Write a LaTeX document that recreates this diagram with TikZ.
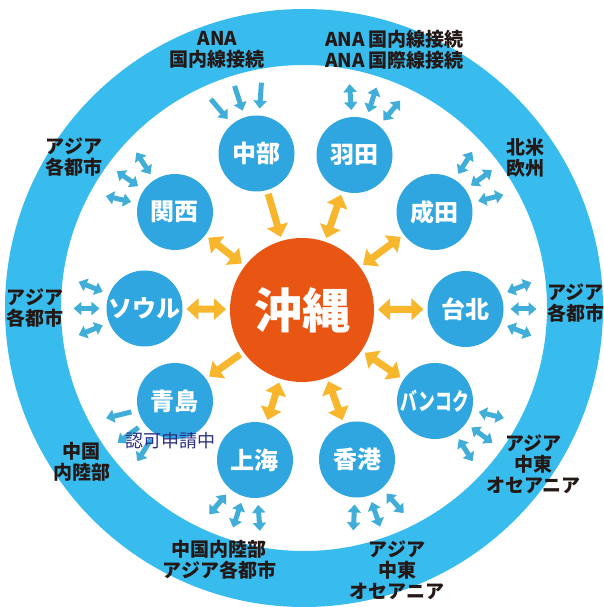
\documentclass[tikz,border=0pt]{standalone}
\usepackage{fontspec}
\usepackage{graphicx}
\setmainfont{Noto Sans CJK JP}
\usetikzlibrary{arrows.meta,calc}
\definecolor{ringblue}{HTML}{38BCEE}
\definecolor{cityblue}{HTML}{2FA6DF}
\definecolor{arrblue}{HTML}{40AED9}
\definecolor{okiorange}{HTML}{E95614}
\definecolor{yel}{HTML}{F8B62D}
\definecolor{txt}{HTML}{231815}
\definecolor{navy}{HTML}{2B2E83}
\tikzset{
  Yt/.tip={Triangle[width=21pt,length=12pt]},
  Bt/.tip={Triangle[width=13pt,length=8pt]},
  city/.style={circle, fill=cityblue, minimum size=76pt, inner sep=0pt, outer sep=0pt,
    text=white, font=\bfseries\fontsize{24}{26}\selectfont},
  okinode/.style={circle, fill=okiorange, minimum size=144pt, inner sep=0pt, outer sep=0pt,
    text=white, font=\bfseries\fontsize{48}{50}\selectfont},
  lbl/.style={align=center, inner sep=0pt, text=txt, font=\bfseries\fontsize{19}{21}\selectfont},
  yarr/.style={draw=yel, line width=7pt, shorten <=4pt, shorten >=4pt},
  ydbl/.style={yarr, Yt-Yt},
  ysgl/.style={yarr, -Yt},
  sarr/.style={draw=arrblue, line width=5pt},
  bdbl/.style={sarr, Bt-Bt},
  bin/.style={sarr, Bt-},
  bout/.style={sarr, -Bt}
}
\begin{document}
\begin{tikzpicture}[x=1pt,y=1pt]
\useasboundingbox (-302,-297) rectangle (302,310);
\fill[white] (-302,-297) rectangle (302,310);
% ring
\draw[ringblue, line width=56pt] (2,2) circle (271pt);
% nodes
\node[okinode] (oki) at (0,0) {沖縄};
\node[city] (chubu) at (-45.5,156.5) {中部};
\node[city] (hnd) at (52.5,155) {羽田};
\node[city] (nrt) at (132.5,98) {成田};
\node[city] (tpe) at (163.5,1) {台北};
\node[city] (bkk) at (133,-91) {\scalebox{0.7}[1]{バンコク}};
\node[city] (hkg) at (55,-149.5) {香港};
\node[city] (sha) at (-47,-150) {上海};
\node[city] (tao) at (-127,-91) {青島};
\node[city] (sel) at (-157.5,1.5) {ソウル};
\node[city] (kix) at (-127,98) {関西};
% yellow arrows
\draw[ysgl] (chubu) -- (oki);
\draw[ydbl] (hnd) -- (oki);
\draw[ydbl] (nrt) -- (oki);
\draw[ydbl] (tpe) -- (oki);
\draw[ydbl] (bkk) -- (oki);
\draw[ydbl] (hkg) -- (oki);
\draw[ydbl] (sha) -- (oki);
\draw[ysgl] (oki) -- (tao);
\draw[ydbl] (sel) -- (oki);
\draw[ydbl] (kix) -- (oki);
% small blue arrows
\foreach \c/\a/\s in {chubu/108/bin, hnd/72/bdbl, nrt/36/bdbl, tpe/0/bdbl, bkk/-36/bdbl,
    hkg/-71/bdbl, sha/-108/bdbl, tao/-144/bout, sel/180/bdbl, kix/145/bdbl}{
  \foreach \d in {-22,0,22}{
    \draw[\s] ($(\c)+({\a+\d}:45pt)$) -- ($(\c)+({\a+\d}:71pt)$);
  }
}
% labels
\node[lbl] (l1) at (-84.5,260) {ANA\\国内線接続};
\node[lbl] (l2) at (92.5,260) {ANA 国内線接続\\ANA 国際線接続};
\node[lbl] (l3) at (223,152) {北米\\欧州};
\node[lbl] (l4) at (273.5,7) {アジア\\各都市};
\node[lbl] (l5) at (-267,2) {アジア\\各都市};
\node[lbl] (l6) at (-228,153) {アジア\\各都市};
\node[lbl] (l7) at (-220,-152) {中国\\内陸部};
\node[lbl] (l8) at (-82.5,-250) {中国内陸部\\アジア各都市};
\node[lbl] (l9) at (95,-260) {アジア\\中東\\オセアニア};
\node[lbl] (l10) at (231.5,-154.5) {アジア\\中東\\オセアニア};
\node[inner sep=0pt, text=navy, font=\fontsize{18}{20}\selectfont] (l11) at (-131,-131) {認可申請中};
\end{tikzpicture}
\end{document}
